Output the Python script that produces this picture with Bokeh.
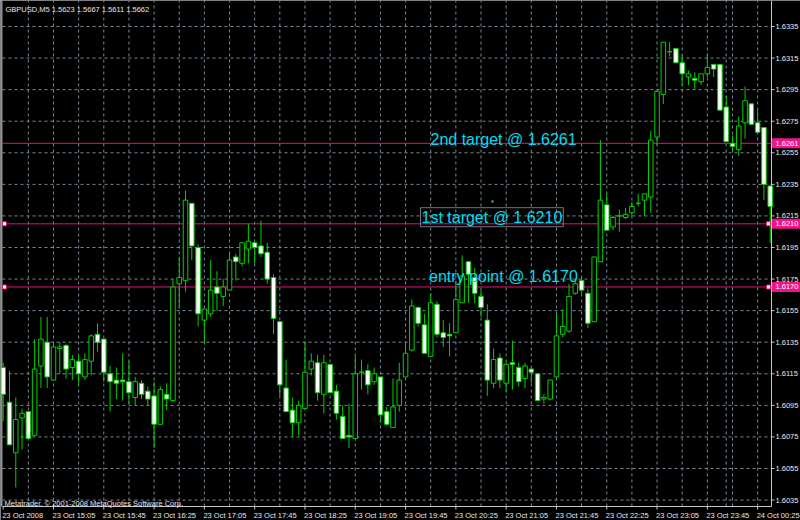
from bokeh.plotting import figure
from bokeh.models import Label, Range1d, ColumnDataSource
from bokeh.core.properties import value
from bokeh.embed import file_html
from bokeh.resources import INLINE

# ---- data (GBPUSD M5, 23 Oct 2008 14:25 .. 24 Oct 00:35) ----
opens = [1.6119,1.6097,1.6065,1.6087,1.6091,1.6076,1.6120,1.6135,1.6111,1.6131,
         1.6133,1.6119,1.6123,1.6113,1.6123,1.6140,1.6137,1.6115,1.6111,1.6111,
         1.6110,1.6100,1.6109,1.6104,1.6101,1.6083,1.6102,1.6098,1.6172,1.6174,
         1.6223,1.6195,1.6149,1.6153,1.6170,1.6164,1.6168,1.6189,1.6185,1.6194,
         1.6198,1.6196,1.6192,1.6176,1.6148,1.6106,1.6092,1.6084,1.6093,1.6118,
         1.6122,1.6102,1.6121,1.6104,1.6088,1.6076,1.6074,1.6116,1.6117,1.6110,
         1.6113,1.6091,1.6081,1.6095,1.6113,1.6130,1.6157,1.6146,1.6126,1.6159,
         1.6141,1.6140,1.6141,1.6160,1.6186,1.6176,1.6164,1.6149,1.6109,1.6125,
         1.6109,1.6122,1.6119,1.6112,1.6118,1.6115,1.6099,1.6099,1.6113,1.6140,
         1.6142,1.6166,1.6174,1.6166,1.6148,1.6186,1.6222,1.6208,1.6215,1.6214,
         1.6217,1.6223,1.6225,1.6227,1.6265,1.6292,1.6319,1.6321,1.6312,1.6303,
         1.6302,1.6300,1.6305,1.6311,1.6311,1.6284,1.6261,1.6257,1.6274,1.6286,
         1.6274,1.6271,1.6234]
highs = [1.6122,1.6117,1.6100,1.6093,1.6091,1.6137,1.6151,1.6151,1.6135,1.6135,
         1.6134,1.6127,1.6127,1.6128,1.6140,1.6147,1.6137,1.6120,1.6119,1.6128,
         1.6123,1.6113,1.6111,1.6107,1.6110,1.6107,1.6109,1.6175,1.6189,1.6231,
         1.6223,1.6197,1.6156,1.6187,1.6180,1.6175,1.6192,1.6191,1.6198,1.6210,
         1.6198,1.6212,1.6198,1.6178,1.6148,1.6124,1.6100,1.6098,1.6135,1.6128,
         1.6127,1.6127,1.6121,1.6108,1.6095,1.6096,1.6126,1.6124,1.6121,1.6119,
         1.6113,1.6094,1.6112,1.6122,1.6135,1.6162,1.6158,1.6153,1.6166,1.6161,
         1.6149,1.6147,1.6174,1.6190,1.6186,1.6182,1.6168,1.6159,1.6131,1.6128,
         1.6122,1.6136,1.6122,1.6122,1.6119,1.6115,1.6102,1.6111,1.6153,1.6156,
         1.6172,1.6175,1.6176,1.6169,1.6189,1.6263,1.6229,1.6215,1.6219,1.6220,
         1.6224,1.6229,1.6229,1.6269,1.6294,1.6325,1.6325,1.6321,1.6317,1.6307,
         1.6306,1.6305,1.6318,1.6311,1.6311,1.6291,1.6266,1.6278,1.6297,1.6286,
         1.6282,1.6271,1.6234]
lows = [1.6085,1.6070,1.6043,1.6067,1.6074,1.6076,1.6106,1.6106,1.6111,1.6115,
        1.6112,1.6111,1.6108,1.6111,1.6114,1.6129,1.6110,1.6091,1.6099,1.6098,
        1.6096,1.6095,1.6099,1.6095,1.6068,1.6083,1.6092,1.6097,1.6157,1.6167,
        1.6187,1.6145,1.6134,1.6151,1.6155,1.6158,1.6168,1.6174,1.6183,1.6185,
        1.6185,1.6189,1.6172,1.6140,1.6101,1.6091,1.6075,1.6076,1.6093,1.6114,
        1.6098,1.6090,1.6103,1.6086,1.6074,1.6068,1.6074,1.6105,1.6102,1.6108,
        1.6084,1.6082,1.6081,1.6091,1.6113,1.6129,1.6145,1.6128,1.6126,1.6138,
        1.6132,1.6126,1.6141,1.6160,1.6160,1.6160,1.6151,1.6101,1.6106,1.6106,
        1.6104,1.6105,1.6107,1.6106,1.6109,1.6098,1.6096,1.6098,1.6112,1.6138,
        1.6141,1.6165,1.6166,1.6144,1.6148,1.6186,1.6206,1.6206,1.6205,1.6213,
        1.6215,1.6221,1.6215,1.6217,1.6260,1.6286,1.6316,1.6312,1.6298,1.6298,
        1.6295,1.6298,1.6303,1.6303,1.6282,1.6262,1.6256,1.6253,1.6264,1.6273,
        1.6268,1.6225,1.6198]
closes = [1.6102,1.6070,1.6086,1.6090,1.6074,1.6118,1.6137,1.6113,1.6132,1.6132,
          1.6118,1.6124,1.6115,1.6124,1.6139,1.6135,1.6116,1.6110,1.6109,1.6110,
          1.6103,1.6110,1.6102,1.6099,1.6083,1.6105,1.6099,1.6170,1.6176,1.6225,
          1.6196,1.6153,1.6156,1.6168,1.6166,1.6170,1.6187,1.6186,1.6198,1.6199,
          1.6195,1.6191,1.6175,1.6150,1.6108,1.6091,1.6084,1.6095,1.6116,1.6123,
          1.6103,1.6122,1.6103,1.6090,1.6074,1.6075,1.6115,1.6116,1.6108,1.6115,
          1.6089,1.6083,1.6094,1.6111,1.6128,1.6158,1.6147,1.6128,1.6160,1.6140,
          1.6138,1.6139,1.6162,1.6177,1.6178,1.6166,1.6157,1.6111,1.6124,1.6111,
          1.6121,1.6121,1.6110,1.6120,1.6116,1.6098,1.6100,1.6111,1.6139,1.6145,
          1.6164,1.6172,1.6168,1.6147,1.6189,1.6225,1.6206,1.6214,1.6215,1.6216,
          1.6221,1.6223,1.6229,1.6263,1.6294,1.6325,1.6319,1.6312,1.6305,1.6305,
          1.6301,1.6305,1.6309,1.6308,1.6282,1.6262,1.6259,1.6272,1.6288,1.6273,
          1.6268,1.6235,1.6221]

x_tick_index = [0, 8, 16, 24, 32, 40, 48, 56, 64, 72, 80, 88, 96, 104, 112, 120]
x_tick_labels = ["23 Oct 2008", "23 Oct 15:05", "23 Oct 15:45", "23 Oct 16:25",
                 "23 Oct 17:05", "23 Oct 17:45", "23 Oct 18:25", "23 Oct 19:05",
                 "23 Oct 19:45", "23 Oct 20:25", "23 Oct 21:05", "23 Oct 21:45",
                 "23 Oct 22:25", "23 Oct 23:05", "23 Oct 23:45", "24 Oct 00:25"]
y_ticks = [1.6035, 1.6055, 1.6075, 1.6095, 1.6115, 1.6135, 1.6155, 1.6175,
           1.6195, 1.6215, 1.6235, 1.6255, 1.6275, 1.6295, 1.6315, 1.6335]
y_tick_labels = [f"{v:.4f}" for v in y_ticks]
day_separator_index = 115   # 24 Oct 00:00

levels = [1.6261, 1.6210, 1.6170]
level_tags = ["1.6261", "1.6210", "1.6170"]
level_texts = ["2nd target @ 1.6261", "1st target @ 1.6210", "entry point @ 1.6170"]
title_text = "GBPUSD,M5  1.5623 1.5667 1.5611 1.5662"
copyright_text = "Metatrader, \u00a9 2001-2008 MetaQuotes Software Corp."

# ---- styling / layout ----
GREEN = "#00d000"
GRID = "#778899"
PINK = "#e0147c"
PINK_BOX = "#f0148a"
CYAN = "#00dcf0"
FG = "#e8e8e8"
BORDER = "#c8c8c8"
FONT = "Liberation Sans"
W, H = 800, 520
BAR_PX = 6.287          # horizontal pixels per bar
FIRST_BAR_PX = 2.7      # pixel x of first bar
PX_PER_PRICE = 15786.0  # vertical pixels per price unit
REF_PRICE, REF_PX = 1.6335, 26.0
CHART_L, CHART_R, CHART_B = 2.0, 771.0, 506.0


def xi(px):
    return (px - FIRST_BAR_PX) / BAR_PX


def yp(py):
    return REF_PRICE - (py - REF_PX) / PX_PER_PRICE


n = len(opens)
idx = list(range(n))
src = ColumnDataSource(dict(
    x=idx, o=opens, h=highs, l=lows, c=closes,
    top=[max(a, b) for a, b in zip(opens, closes)],
    bottom=[min(a, b) for a, b in zip(opens, closes)],
    fill=["white" if c < o else "black" for o, c in zip(opens, closes)],
))

p = figure(frame_width=W, frame_height=H,
           x_range=Range1d(xi(0), xi(W)), y_range=Range1d(yp(H), yp(0)),
           output_backend="svg", toolbar_location=None,
           min_border=0, background_fill_color="black", border_fill_color="black",
           outline_line_color=None)
p.xaxis.visible = False
p.yaxis.visible = False
p.grid.visible = False

xl, xr = xi(CHART_L), xi(CHART_R)
ytop, ybot = yp(0), yp(CHART_B)

# grid (dotted)
vg = list(range(4, n, 4)) + [day_separator_index]
p.segment(x0=vg, y0=[ybot] * len(vg), x1=vg, y1=[ytop] * len(vg),
          line_color=GRID, line_dash="3 3", line_width=1)
p.segment(x0=[xl] * len(y_ticks), y0=y_ticks, x1=[xr] * len(y_ticks), y1=y_ticks,
          line_color=GRID, line_dash="3 3", line_width=1)

# chart border
p.segment(x0=[xr, xl], y0=[ytop, ybot], x1=[xr, xr], y1=[ybot, ybot],
          line_color=BORDER, line_width=1)
p.segment(x0=[xi(1)], y0=[ytop], x1=[xi(1)], y1=[ybot], line_color="#909090", line_width=2)

# right price scale
p.segment(x0=[xr] * len(y_ticks), y0=y_ticks, x1=[xi(CHART_R + 3)] * len(y_ticks), y1=y_ticks,
          line_color=BORDER, line_width=1)
p.text(x=[xi(CHART_R + 4)] * len(y_ticks), y=y_ticks, text=y_tick_labels,
       text_color=FG, text_font=value(FONT), text_font_size="7.5px",
       text_align="left", text_baseline="middle")

# bottom time scale
p.segment(x0=x_tick_index, y0=[ybot] * len(x_tick_index), x1=x_tick_index,
          y1=[yp(CHART_B + 3)] * len(x_tick_index), line_color=BORDER, line_width=1)
p.text(x=[t - 1.0 / BAR_PX for t in x_tick_index], y=[yp(CHART_B + 4)] * len(x_tick_index),
       text=x_tick_labels, text_color=FG, text_font=value(FONT), text_font_size="7.5px",
       text_align="left", text_baseline="top")

# level lines
p.segment(x0=[xl] * 3, y0=levels, x1=[xr] * 3, y1=levels, line_color=PINK, line_width=1)

# candles
p.segment(x0="x", y0="l", x1="x", y1="h", source=src, line_color=GREEN, line_width=1)
p.vbar(x="x", top="top", bottom="bottom", width=0.72, source=src,
       fill_color="fill", line_color=GREEN, line_width=1)

# selected-object handles on 1st target and entry lines
for lv in levels[1:]:
    p.scatter(x=[xi(4), xi(768)], y=[lv, lv], marker="square", size=4,
              fill_color="white", line_color=PINK, line_width=1)

# price tags
p.rect(x=[xi(785.5)] * 3, y=levels, width=28, height=10, width_units="screen",
       height_units="screen", fill_color=PINK_BOX, line_color=None)
p.text(x=[xi(CHART_R + 4)] * 3, y=levels, text=level_tags, text_color="white",
       text_font=value(FONT), text_font_size="7.5px", text_align="left", text_baseline="middle")

# text objects
p.add_layout(Label(x=xi(430), y=yp(139.3), text=level_texts[0], text_color=CYAN,
                   text_font=FONT, text_font_size="16px", text_baseline="alphabetic"))
p.add_layout(Label(x=xi(420), y=yp(216.7), text=level_texts[1], text_color=CYAN,
                   text_font=FONT, text_font_size="16px", text_baseline="alphabetic",
                   border_line_color="#707880", border_line_width=1, padding=1))
p.add_layout(Label(x=xi(428.5), y=yp(276), text=level_texts[2], text_color=CYAN,
                   text_font=FONT, text_font_size="16px", text_baseline="alphabetic"))
# anchor dot of the selected text object
p.scatter(x=[xi(492)], y=[yp(201)], marker="square", size=2,
          fill_color="#70b8c8", line_color=None)

# title / copyright
p.text(x=[xi(5)], y=[yp(4)], text=[title_text], text_color=FG, text_font=value(FONT),
       text_font_size="7.5px", text_align="left", text_baseline="top")
p.text(x=[xi(4)], y=[yp(503)], text=[copyright_text], text_color=FG, text_font=value(FONT),
       text_font_size="7.5px", text_align="left", text_baseline="alphabetic")

open("out.html", "w").write(file_html(p, INLINE))
